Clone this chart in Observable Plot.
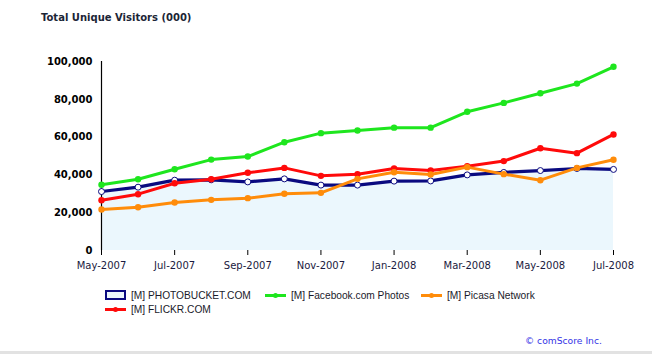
<!DOCTYPE html>
<html>
<head>
<meta charset="utf-8">
<script src="https://cdn.jsdelivr.net/npm/d3@7"></script>
<script src="https://cdn.jsdelivr.net/npm/@observablehq/plot@0.6"></script>
<style>
  html, body { margin: 0; padding: 0; background: #fff; }
  #wrap { position: relative; width: 654px; height: 354px; overflow: hidden; background: #fff; }
  #title { position: absolute; left: 41px; top: 12px; font: bold 10px "DejaVu Sans", sans-serif; color: #1b2536; white-space: nowrap; }
  #chart { position: absolute; left: 0; top: 0; }
  #legend { position: absolute; left: 105px; top: 290px; width: 520px; font: 10.2px "Liberation Sans", Arial, sans-serif; color: #1a1a2a; }
  .item { position: absolute; white-space: nowrap; height: 12px; line-height: 12px; }
  .sw { display: inline-block; vertical-align: middle; position: relative; width: 21px; height: 10px; margin-right: 5px; margin-top: -2px; }
  .box { box-sizing: border-box; border: 2px solid #0a0a80; background: #ebf6fc; }
  .ln::before { content: ""; position: absolute; left: 0; right: 0; top: 4px; height: 3px; background: var(--c); }
  .ln::after { content: ""; position: absolute; left: 8px; top: 3px; width: 5px; height: 5px; border-radius: 50%; background: var(--c); }
  #copy { position: absolute; left: 525px; top: 335px; font: 9.2px "DejaVu Sans", sans-serif; color: #3434e6; white-space: nowrap; }
  #bar { position: absolute; left: 0; top: 351px; width: 652px; height: 3px; background: #e2e2e2; }
  g[aria-label="y-axis tick label"] text { font-weight: bold; }
</style>
</head>
<body>
<div id="wrap">
  <div id="chart"></div>
  <div id="title">Total Unique Visitors (000)</div>
  <div id="legend"></div>
  <div id="copy">© comScore Inc.</div>
  <div id="bar"></div>
</div>
<script>
const months = ["May-2007","Jun-2007","Jul-2007","Aug-2007","Sep-2007","Oct-2007","Nov-2007","Dec-2007","Jan-2008","Feb-2008","Mar-2008","Apr-2008","May-2008","Jun-2008","Jul-2008"];
const photobucket = [31200,33500,37200,37400,36300,37900,34600,34600,36700,36800,40000,41300,42300,43400,42900];
const facebook = [34800,37700,43000,48100,49700,57300,62100,63500,65000,65000,73400,78100,83200,88300,97200];
const flickr = [26600,29800,35600,37700,41100,43700,39500,40400,43400,42300,44600,47300,54100,51500,61400];
const picasa = [21700,22900,25400,26800,27700,30000,30500,37900,41400,40200,44100,40400,37200,43700,48000];
const yTicks = [0, 20000, 40000, 60000, 80000, 100000];
const seriesNames = ["[M] PHOTOBUCKET.COM", "[M] Facebook.com Photos", "[M] Picasa Network", "[M] FLICKR.COM"];
const seriesColors = ["#0a0a80", "#1ee61e", "#ff8c0a", "#ff0a0a"];

const rows = (vals) => vals.map((v, i) => ({i, v}));
const pb = rows(photobucket), fb = rows(facebook), fl = rows(flickr), pc = rows(picasa);
const xTicks = months.map((m, i) => i).filter(i => i % 2 === 0);

const chart = Plot.plot({
  width: 654,
  height: 280,
  marginLeft: 101,
  marginRight: 41,
  marginTop: 61,
  marginBottom: 30,
  style: {fontFamily: "DejaVu Sans, sans-serif", fontSize: "10px", background: "transparent", overflow: "visible"},
  x: {type: "linear", domain: [0, months.length - 1]},
  y: {domain: [0, 100000]},
  marks: [
    Plot.areaY(pb, {x: "i", y: "v", fill: "#ebf7fd"}),
    Plot.ruleX([0], {y1: 0, y2: 100000, stroke: "#000", strokeWidth: 1.2}),
    Plot.axisY({ticks: yTicks, tickFormat: d3.format(","), tickSize: 5, tickPadding: 4, fontWeight: "bold", fill: "#000", stroke: null, label: null}),
    Plot.axisX({ticks: xTicks, tickFormat: i => months[i], tickSize: 5, tickPadding: 6, fill: "#1a1a40", label: null}),
    Plot.lineY(pb, {x: "i", y: "v", stroke: seriesColors[0], strokeWidth: 3.2}),
    Plot.dot(pb, {x: "i", y: "v", r: 3, fill: "#fff", stroke: seriesColors[0], strokeWidth: 1}),
    Plot.lineY(fb, {x: "i", y: "v", stroke: seriesColors[1], strokeWidth: 3}),
    Plot.dot(fb, {x: "i", y: "v", r: 3.2, fill: seriesColors[1]}),
    Plot.lineY(fl, {x: "i", y: "v", stroke: seriesColors[3], strokeWidth: 3}),
    Plot.dot(fl, {x: "i", y: "v", r: 3.2, fill: seriesColors[3]}),
    Plot.lineY(pc, {x: "i", y: "v", stroke: seriesColors[2], strokeWidth: 3}),
    Plot.dot(pc, {x: "i", y: "v", r: 3.2, fill: seriesColors[2]})
  ]
});
document.getElementById("chart").appendChild(chart);

// Legend
const legend = document.getElementById("legend");
const pos = [[0, 0], [160, 0], [316, 0], [0, 14]];
seriesNames.forEach((name, k) => {
  const it = document.createElement("div");
  it.className = "item";
  it.style.left = pos[k][0] + "px";
  it.style.top = pos[k][1] + "px";
  const sw = document.createElement("span");
  sw.className = "sw " + (k === 0 ? "box" : "ln");
  if (k !== 0) sw.style.setProperty("--c", seriesColors[k]);
  it.appendChild(sw);
  it.appendChild(document.createTextNode(name));
  legend.appendChild(it);
});
</script>
</body>
</html>
